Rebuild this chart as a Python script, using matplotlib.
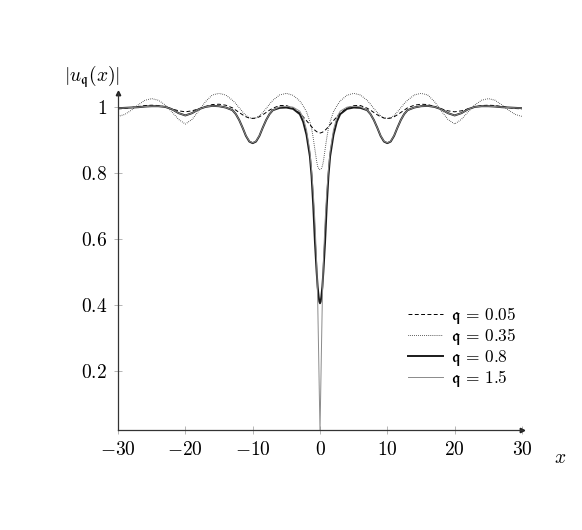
import numpy as np
import matplotlib
matplotlib.use("Agg")
import matplotlib.pyplot as plt
from matplotlib.ticker import FuncFormatter

plt.rcParams['font.family'] = 'serif'
plt.rcParams['font.serif'] = ['DejaVu Serif']
plt.rcParams['mathtext.fontset'] = 'cm'

# values read for x >= 0, the curves are symmetric about x = 0
x_half = [0, 0.1, 0.2, 0.35, 0.5, 0.75, 1, 1.25, 1.5, 2, 2.5, 3, 4, 5, 6, 7,
          7.5, 8, 8.5, 9, 9.5, 10, 10.5, 11, 11.5, 12, 12.5, 13, 14, 15, 16,
          17, 18, 19, 20, 21, 22, 23, 24, 25, 26, 27, 28, 29, 30]

u_005 = [0.921, 0.921, 0.922, 0.923, 0.925, 0.929, 0.934, 0.940, 0.946, 0.958,
         0.970, 0.981, 0.996, 1.004, 1.004, 0.996, 0.990, 0.983, 0.976, 0.970,
         0.966, 0.965, 0.966, 0.970, 0.976, 0.983, 0.990, 0.997, 1.005, 1.008,
         1.007, 1.001, 0.994, 0.988, 0.985, 0.988, 0.994, 1.000, 1.004, 1.005,
         1.004, 1.001, 0.998, 0.995, 0.994]

u_035 = [0.810, 0.811, 0.813, 0.820, 0.835, 0.870, 0.905, 0.935, 0.955, 0.985,
         1.003, 1.018, 1.035, 1.041, 1.036, 1.020, 1.008, 0.995, 0.983, 0.973,
         0.967, 0.965, 0.967, 0.974, 0.985, 0.997, 1.010, 1.020, 1.036, 1.041,
         1.036, 1.016, 0.988, 0.962, 0.948, 0.962, 0.985, 1.006, 1.020, 1.025,
         1.020, 1.006, 0.990, 0.977, 0.971]

u_08 = [0.405, 0.410, 0.425, 0.455, 0.500, 0.590, 0.700, 0.790, 0.850, 0.915,
        0.955, 0.978, 0.994, 0.998, 0.997, 0.990, 0.978, 0.960, 0.937, 0.912,
        0.895, 0.890, 0.895, 0.912, 0.937, 0.960, 0.978, 0.990, 0.998, 1.002,
        1.003, 1.000, 0.993, 0.981, 0.974, 0.981, 0.993, 1.000, 1.002, 1.002,
        1.001, 0.999, 0.998, 0.997, 0.996]

u_15 = [0.020, 0.130, 0.250, 0.420, 0.530, 0.650, 0.740, 0.810, 0.865, 0.930,
        0.968, 0.987, 0.999, 1.002, 1.000, 0.990, 0.978, 0.960, 0.937, 0.913,
        0.896, 0.891, 0.896, 0.913, 0.937, 0.960, 0.978, 0.990, 0.998, 1.002,
        1.003, 1.000, 0.993, 0.981, 0.974, 0.981, 0.993, 1.000, 1.002, 1.002,
        1.001, 0.999, 0.998, 0.997, 0.996]

labels = [r'$\mathfrak{q}\,=\,0.05$', r'$\mathfrak{q}\,=\,0.35$',
          r'$\mathfrak{q}\,=\,0.8$', r'$\mathfrak{q}\,=\,1.5$']


def full(v):
    v = np.asarray(v, dtype=float)
    return np.concatenate([v[:0:-1], v])


xs = np.concatenate([-np.asarray(x_half[:0:-1]), np.asarray(x_half)])

fig = plt.figure(figsize=(5.82, 5.30), dpi=100)
ax = fig.add_axes([118 / 582, 1 - 430 / 530, 404 / 582, 337 / 530])

ax.plot(xs, full(u_005), color='black', lw=0.7, ls=(0, (4, 2.5)), label=labels[0])
ax.plot(xs, full(u_035), color='black', lw=0.7, ls=(0, (0.6, 1.4)), label=labels[1])
ax.plot(xs, full(u_08), color='#1a1a1a', lw=1.4, label=labels[2])
ax.plot(xs, full(u_15), color='#8a8a8a', lw=0.7, label=labels[3])

ax.set_xlim(-30, 30)
ax.set_ylim(0.021, 1.042)
ax.set_xticks([-30, -20, -10, 0, 10, 20, 30])
ax.set_yticks([0.2, 0.4, 0.6, 0.8, 1.0])
fmt = FuncFormatter(lambda v, p: '$%g$' % round(v, 2))
ax.xaxis.set_major_formatter(fmt)
ax.yaxis.set_major_formatter(fmt)
ax.tick_params(direction='inout', length=6, width=0.6, color='#aaaaaa',
               labelsize=14, pad=5)

for s in ['top', 'right']:
    ax.spines[s].set_visible(False)
for s in ['left', 'bottom']:
    ax.spines[s].set_color('#333333')
    ax.spines[s].set_linewidth(0.9)

ax.plot(1, 0, marker='>', color='#222222', markersize=3.2, transform=ax.transAxes, clip_on=False)
ax.plot(0, 1, marker='^', color='#222222', markersize=3.2, transform=ax.transAxes, clip_on=False)

fig.text(92 / 582, 1 - 77 / 530, r'$|u_{\mathfrak{q}}(x)|$', fontsize=14,
         ha='center', va='center')
fig.text(560 / 582, 1 - 458 / 530, r'$x$', fontsize=14, ha='center', va='center')

ax.legend(loc='upper left', bbox_to_anchor=(408 / 582, 1 - 305 / 530),
          bbox_transform=fig.transFigure, frameon=False, fontsize=12.5,
          handlelength=2.0, handletextpad=0.5, labelspacing=0.02,
          borderaxespad=0, borderpad=0)

fig.savefig('out.png', dpi=100)
